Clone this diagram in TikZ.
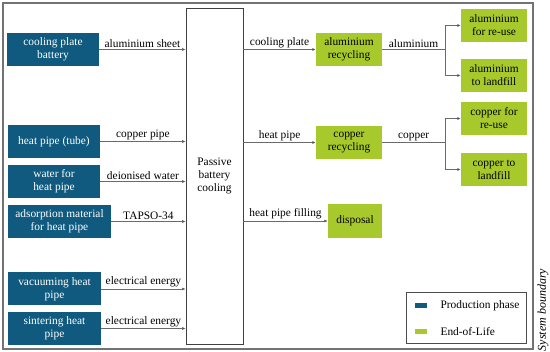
\documentclass[tikz,border=0pt]{standalone}
\usepackage{fontspec}
\setmainfont{Liberation Serif}
\usetikzlibrary{arrows.meta}
\definecolor{prodblue}{HTML}{0F5A7E}
\definecolor{eolgreen}{HTML}{A8C92C}
\definecolor{linegray}{HTML}{6A6A6A}
\tikzset{
  txt/.style={font=\fontsize{11.4}{13}\selectfont},
  bluebox/.style={txt, fill=prodblue, text=white, minimum height=33pt, minimum width=92pt, align=center, inner sep=1pt},
  greenbox/.style={txt, fill=eolgreen, text=black, minimum height=33pt, minimum width=66pt, align=center, inner sep=1pt},
  flow/.style={draw=linegray, line width=0.6pt, -{Latex[length=3.5pt,width=3pt,fill=black]}},
  lbl/.style={txt, above, inner sep=1.5pt, text=black}
}
\begin{document}
\begin{tikzpicture}[x=1pt,y=-1pt]
\useasboundingbox (0,0) rectangle (550,352);
% system boundary
\draw[draw=gray!90!black, line width=1.2pt] (3,3) rectangle (533,349);
\node[rotate=90, font=\fontsize{12}{13}\itshape] (sb) at (543,310) {System boundary};
% center box
\node[txt, draw=black!75, line width=0.7pt, minimum width=57pt, minimum height=336pt, align=center] (pbc) at (214.5,176) {Passive\\battery\\cooling};
% blue boxes
\node[bluebox] (cp) at (53,49.5) {cooling plate\\battery};
\node[bluebox] (hp) at (54,141.5) {heat pipe (tube)};
\node[bluebox] (wat) at (54,181.5) {water for\\heat pipe};
\node[bluebox, minimum width=103pt] (ads) at (59.5,221.5) {adsorption material\\for heat pipe};
\node[bluebox, minimum width=93pt] (vac) at (54.5,289) {vacuuming heat\\pipe};
\node[bluebox, minimum width=93pt] (sin) at (54.5,328.5) {sintering heat\\pipe};
% inputs
\draw[flow] (cp.east) -- (cp.east -| pbc.west) node[lbl, midway] {aluminium sheet};
\draw[flow] (hp.east) -- (hp.east -| pbc.west) node[lbl, midway] {copper pipe};
\draw[flow] (wat.east) -- (wat.east -| pbc.west) node[lbl, midway] {deionised water};
\draw[flow] (ads.east) -- (ads.east -| pbc.west) node[lbl, midway] {TAPSO-34};
\draw[flow] (vac.east) -- (vac.east -| pbc.west) node[lbl, midway] {electrical energy};
\draw[flow] (sin.east) -- (sin.east -| pbc.west) node[lbl, midway] {electrical energy};
% green boxes
\node[greenbox] (alr) at (349,49.5) {aluminium\\recycling};
\node[greenbox] (cur) at (349,142.5) {copper\\recycling};
\node[greenbox, minimum width=54pt, minimum height=34pt] (dis) at (355,221) {disposal};
\node[greenbox] (alre) at (494,25.5) {aluminium\\for re-use};
\node[greenbox] (allf) at (494,75.5) {aluminium\\to landfill};
\node[greenbox] (cure) at (494,118.5) {copper for\\re-use};
\node[greenbox] (culf) at (494,169.5) {copper to\\landfill};
% outputs
\draw[flow] (alr.west -| pbc.east) -- (alr.west) node[lbl, midway] {cooling plate};
\draw[flow] (cur.west -| pbc.east) -- (cur.west) node[lbl, midway] {heat pipe};
\draw[flow] (dis.west -| pbc.east) -- (dis.west) node[lbl, midway] {heat pipe filling};
% branches
\coordinate (alj) at (445,49.5);
\coordinate (cuj) at (445,142.5);
\draw[draw=linegray, line width=0.6pt] (alr.east) -- (alj) node[lbl, midway] {aluminium};
\draw[draw=linegray, line width=0.6pt] (cur.east) -- (cuj) node[lbl, midway] {copper};
\draw[flow] (alj) |- (alre.west);
\draw[flow] (alj) |- (allf.west);
\draw[flow] (cuj) |- (cure.west);
\draw[flow] (cuj) |- (culf.west);
% legend
\node[draw=black!70, line width=0.7pt, minimum width=120pt, minimum height=51pt] (leg) at (466,317.5) {};
\node[fill=prodblue, minimum width=12pt, minimum height=5pt, inner sep=0pt] (lb) at (421,305.5) {};
\node[fill=eolgreen, minimum width=12pt, minimum height=5pt, inner sep=0pt] (lg) at (421,331.5) {};
\node[txt, anchor=west] (lbt) at (437,305.5) {Production phase};
\node[txt, anchor=west] (lgt) at (437,331.5) {End-of-Life};
\end{tikzpicture}
\end{document}
